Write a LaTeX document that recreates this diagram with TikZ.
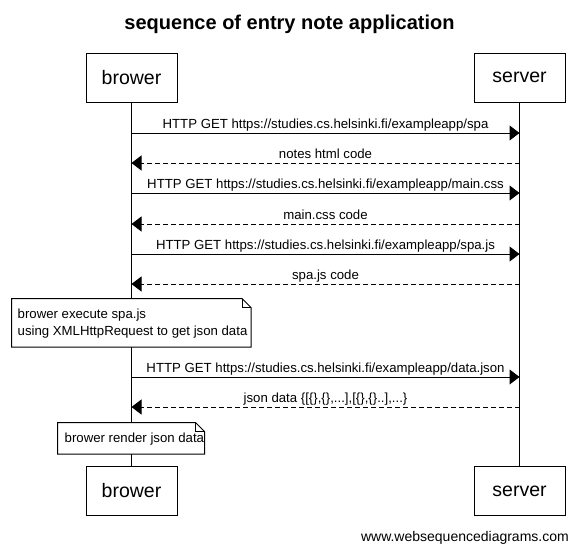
\documentclass[tikz,border=0pt]{standalone}
\usepackage{fontspec}
\setmainfont{Liberation Sans}
\usetikzlibrary{arrows.meta,calc}
\begin{document}
\begin{tikzpicture}[x=1pt,y=-1pt,
  actor/.style={draw,line width=1pt,minimum width=91pt,minimum height=49pt,inner sep=0pt,font=\fontsize{19.5}{22}\selectfont},
  msglabel/.style={anchor=base,inner sep=0pt,font=\fontsize{13.2}{15}\selectfont},
  req/.style={line width=1pt,-{Triangle[length=10pt,width=15pt]}},
  resp/.style={line width=1pt,dash pattern=on 5pt off 3pt,-{Triangle[length=10pt,width=15pt]}},
  life/.style={line width=1pt},
  notetext/.style={inner sep=0pt,anchor=base west,font=\fontsize{13.2}{16.5}\selectfont,align=left},
  notebox/.style={draw,line width=1pt,fill=white}
]
\useasboundingbox (0,0) rectangle (577,550);
\node[anchor=base,font=\fontsize{20}{24}\bfseries\selectfont] (title) at (289.5,29) {sequence of entry note application};
\node[actor] (b1) at (131.5,77.5) {brower};
\node[actor] (s1) at (519.5,77.5) {server};
\node[actor] (b2) at (131.5,491) {brower};
\node[actor] (s2) at (519.5,491) {server};
\draw[life] (b1.south) -- (b2.north);
\draw[life] (s1.south) -- (s2.north);
% message coordinates
\foreach \i/\y in {1/133,2/163,3/193,4/224,5/254,6/284,7/377,8/407}{
  \coordinate (b\i) at (131.5,\y);
  \coordinate (s\i) at (519.5,\y);
}
\draw[req] (b1) -- (s1) node[msglabel,pos=0.5,yshift=5pt] (l1) {HTTP GET https://studies.cs.helsinki.fi/exampleapp/spa};
\draw[resp] (s2) -- (b2) node[msglabel,pos=0.5,yshift=5pt] (l2) {notes html code};
\draw[req] (b3) -- (s3) node[msglabel,pos=0.5,yshift=5pt] (l3) {HTTP GET https://studies.cs.helsinki.fi/exampleapp/main.css};
\draw[resp] (s4) -- (b4) node[msglabel,pos=0.5,yshift=5pt] (l4) {main.css code};
\draw[req] (b5) -- (s5) node[msglabel,pos=0.5,yshift=5pt] (l5) {HTTP GET https://studies.cs.helsinki.fi/exampleapp/spa.js};
\draw[resp] (s6) -- (b6) node[msglabel,pos=0.5,yshift=5pt] (l6) {spa.js code};
\draw[req] (b7) -- (s7) node[msglabel,pos=0.5,yshift=5pt] (l7) {HTTP GET https://studies.cs.helsinki.fi/exampleapp/data.json};
\draw[resp] (s8) -- (b8) node[msglabel,pos=0.5,yshift=5pt] (l8) {json data \{[\{\},\{\},...],[\{\},\{\}..],...\}};
% note 1
\coordinate (n1nw) at (11.5,298.5);
\coordinate (n1se) at (251,347);
\draw[notebox] (n1nw) -- ($(n1nw-|n1se)+(-9,0)$) -- ($(n1nw-|n1se)+(0,9)$) -- (n1se) -- (n1nw|-n1se) -- cycle;
\draw[line width=1pt] ($(n1nw-|n1se)+(-9,0)$) -- ($(n1nw-|n1se)+(-9,9)$) -- ($(n1nw-|n1se)+(0,9)$);
\node[notetext] (nt1) at (17.5,335) {brower execute spa.js\\using XMLHttpRequest to get json data};
% note 2
\coordinate (n2nw) at (57.5,422.5);
\coordinate (n2se) at (204.5,454);
\draw[notebox] (n2nw) -- ($(n2nw-|n2se)+(-9,0)$) -- ($(n2nw-|n2se)+(0,9)$) -- (n2se) -- (n2nw|-n2se) -- cycle;
\draw[line width=1pt] ($(n2nw-|n2se)+(-9,0)$) -- ($(n2nw-|n2se)+(-9,9)$) -- ($(n2nw-|n2se)+(0,9)$);
\node[notetext] (nt2) at (64.5,442.5) {brower render json data};
\node[anchor=base east,inner sep=0pt,font=\fontsize{14}{16}\selectfont] (footer) at (569,541) {www.websequencediagrams.com};
\end{tikzpicture}
\end{document}
